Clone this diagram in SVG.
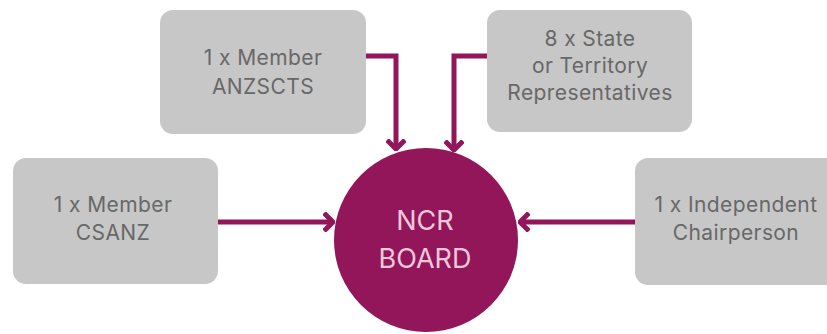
<svg xmlns="http://www.w3.org/2000/svg" width="827" height="334" viewBox="0 0 827 334">
  <style>
    .box { fill: #c7c7c7; }
    .lbl { font-family: Inter, "Open Sans", "Liberation Sans", sans-serif; font-size: 21px; letter-spacing: 0.4px; fill: #686868; text-anchor: middle; }
    .hub { fill: #93155a; }
    .hubtxt { font-family: Inter, "Open Sans", "Liberation Sans", sans-serif; font-size: 27px; fill: #ecc9da; text-anchor: middle; }
    .link { fill: none; stroke: #93155a; stroke-width: 5; }
  </style>
  <defs>
    <marker id="chev" viewBox="0 0 12 20" refX="10" refY="10" markerWidth="12" markerHeight="20" markerUnits="userSpaceOnUse" orient="auto">
      <path d="M1,1 L10,10 L1,19" fill="none" stroke="#93155a" stroke-width="5"/>
    </marker>
  </defs>
  <rect width="827" height="334" fill="#ffffff"/>

  <!-- connectors into the board -->
  <g id="connectors">
    <path class="link" d="M365,56 H396 V149" marker-end="url(#chev)"/>
    <path class="link" d="M488,56 H454 V150" marker-end="url(#chev)"/>
    <path class="link" d="M218,222 H333" marker-end="url(#chev)"/>
    <path class="link" d="M635,222 H520" marker-end="url(#chev)"/>
  </g>

  <g id="anzscts">
    <rect class="box" x="160" y="10" width="206" height="124" rx="13"/>
    <text class="lbl" x="263" y="65">1 x Member</text>
    <text class="lbl" x="263" y="94">ANZSCTS</text>
  </g>

  <g id="state-reps">
    <rect class="box" x="487" y="10" width="205" height="122" rx="13"/>
    <text class="lbl" x="590" y="46">8 x State</text>
    <text class="lbl" x="590" y="73">or Territory</text>
    <text class="lbl" x="590" y="100">Representatives</text>
  </g>

  <g id="csanz">
    <rect class="box" x="13" y="158" width="205" height="126" rx="13"/>
    <text class="lbl" x="113" y="212">1 x Member</text>
    <text class="lbl" x="113" y="240">CSANZ</text>
  </g>

  <g id="chairperson">
    <rect class="box" x="635" y="158" width="210" height="127" rx="13"/>
    <text class="lbl" x="736" y="212">1 x Independent</text>
    <text class="lbl" x="736" y="240">Chairperson</text>
  </g>

  <g id="ncr-board">
    <circle class="hub" cx="426" cy="240" r="92"/>
    <text class="hubtxt" x="425" y="230">NCR</text>
    <text class="hubtxt" x="425" y="268">BOARD</text>
  </g>
</svg>
